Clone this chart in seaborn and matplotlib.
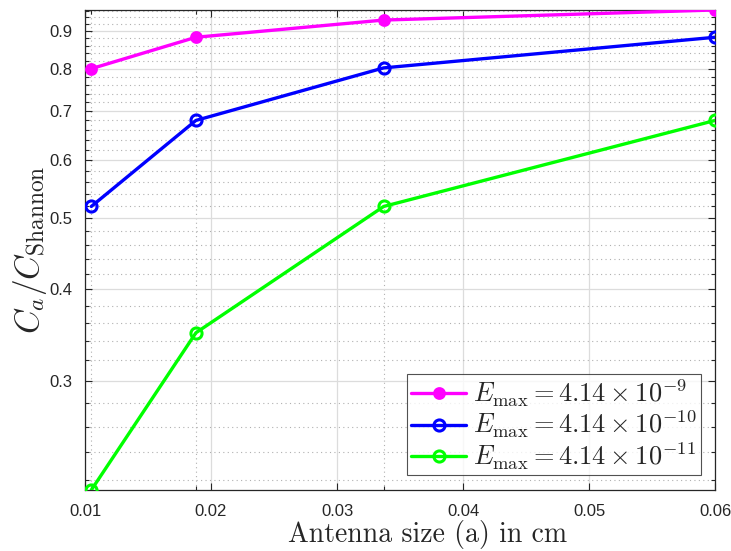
import matplotlib
import matplotlib.pyplot as plt
import matplotlib.ticker as mticker
import numpy as np
import pandas as pd
import seaborn as sns

matplotlib.use('agg')

# data
antenna_size = [0.0105, 0.0188, 0.0337, 0.06]
ratio_e9 = [0.800, 0.883, 0.932, 0.962]
ratio_e10 = [0.519, 0.680, 0.802, 0.883]
ratio_e11 = [0.213, 0.349, 0.519, 0.680]
labels = [r'$E_{\mathrm{max}} = 4.14 \times 10^{-9}$',
          r'$E_{\mathrm{max}} = 4.14 \times 10^{-10}$',
          r'$E_{\mathrm{max}} = 4.14 \times 10^{-11}$']
colors = ['#ff00ff', '#0000ff', '#00ff00']
y_ticks = [0.3, 0.4, 0.5, 0.6, 0.7, 0.8, 0.9]
x_ticks = [0.01, 0.02, 0.03, 0.04, 0.05, 0.06]

sns.set_theme(style='ticks')
plt.rcParams['font.family'] = ['Liberation Sans', 'DejaVu Sans']
plt.rcParams['mathtext.fontset'] = 'cm'

fig = plt.figure(figsize=(7.31, 5.51), dpi=100)
ax = fig.add_axes([0.1163, 0.1107, 0.862, 0.8712])

series = [ratio_e9, ratio_e10, ratio_e11]
for i, vals in enumerate(series):
    df = pd.DataFrame({'x': antenna_size, 'y': vals})
    filled = (i == 0)
    sns.lineplot(data=df, x='x', y='y', ax=ax, color=colors[i], linewidth=2.4,
                 marker='o', markersize=7 if filled else 8,
                 markerfacecolor=colors[i] if filled else 'none',
                 markeredgecolor=colors[i], markeredgewidth=2.2,
                 label=labels[i], zorder=3)

ax.set_yscale('log')
ax.set_xlim(0.01, 0.06)
ax.set_ylim(min(ratio_e11), max(ratio_e9))

ax.yaxis.set_major_locator(mticker.FixedLocator(y_ticks))
ax.yaxis.set_major_formatter(mticker.FixedFormatter([f'{v:.1f}' for v in y_ticks]))
minor_y = [v for v in np.round(np.arange(0.22, 0.97, 0.02), 2) if round(v * 10, 6) % 1 != 0]
ax.yaxis.set_minor_locator(mticker.FixedLocator(minor_y))
ax.yaxis.set_minor_formatter(mticker.NullFormatter())

ax.xaxis.set_major_locator(mticker.FixedLocator(x_ticks))
ax.xaxis.set_major_formatter(mticker.FixedFormatter([f'{v:.2f}' for v in x_ticks]))
ax.xaxis.set_minor_locator(mticker.FixedLocator(antenna_size[:3]))

ax.grid(which='major', color='#dcdcdc', linewidth=0.9, linestyle='-')
ax.grid(which='minor', color='#b0b0b0', linewidth=0.8, linestyle=(0, (1, 3)))
ax.set_axisbelow(True)

ax.tick_params(which='both', direction='in', top=True, right=True, colors='#262626',
               labelsize=12, width=0.8)
ax.tick_params(which='major', length=5)
ax.tick_params(which='minor', length=3)
ax.tick_params(axis='x', pad=10)
ax.tick_params(axis='y', pad=9)
for sp in ax.spines.values():
    sp.set_color('#262626')
    sp.set_linewidth(0.9)

ax.set_xlabel('Antenna size (a) in cm', fontfamily='cmr10', fontsize=20,
              color='#262626')
ax.xaxis.set_label_coords(0.544, -0.063)
ax.set_ylabel(r'$C_a/C_{\mathrm{Shannon}}$', fontsize=24, color='#262626', labelpad=0)

leg = ax.legend(loc='lower right', fontsize=19, frameon=True, fancybox=False,
                edgecolor='#262626', handlelength=2.1, borderpad=0.15,
                labelspacing=0.0, handletextpad=0.25, borderaxespad=0.55)
leg.get_frame().set_linewidth(0.8)

fig.savefig('out.png', dpi=100)
